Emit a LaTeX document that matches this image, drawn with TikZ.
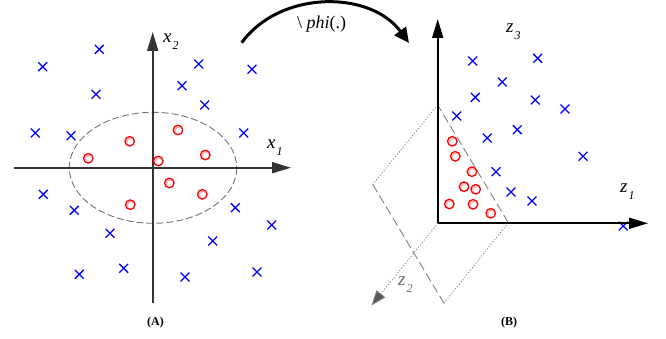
\documentclass[tikz,border=0pt]{standalone}
\usepackage{fontspec}
\setmainfont{Liberation Serif}
\usetikzlibrary{arrows.meta,shapes.misc}
\tikzset{
  crs/.style={draw=blue, line width=1.3pt, cross out, minimum size=7.5pt, inner sep=0pt},
  reddot/.style={circle, draw=red, fill=white, line width=1.3pt, minimum size=9.5pt, inner sep=0pt,
    path picture={\fill[red!30] (path picture bounding box.center) circle (3.6pt);
                  \fill[white] ([shift={(0.9pt,-0.9pt)}]path picture bounding box.center) circle (3.1pt);}},
  axisline/.style={line width=1.8pt, -{Triangle[length=19pt,width=11pt]}},
  lab/.style={anchor=base west, inner sep=0pt, font=\fontsize{19}{19}\selectfont\itshape},
  plane/.style={draw=gray, line width=0.9pt, dash pattern=on 9pt off 4pt},
  pdot/.style={draw=gray, line width=0.9pt, dash pattern=on 1pt off 2pt},
  captext/.style={font=\fontsize{12}{12}\selectfont\bfseries, inner sep=0pt}
}
\newcommand{\sbs}[1]{\raisebox{-7pt}{\fontsize{12}{12}\selectfont\itshape #1}}
\begin{document}
\begin{tikzpicture}[x=1pt,y=-1pt]
\useasboundingbox (0,0) rectangle (666,339);
% ---------- panel A ----------
\coordinate (ax0) at (14,167.7);
\coordinate (ax1) at (291,167.7);
\coordinate (ay0) at (152.7,303);
\coordinate (ay1) at (152.7,32);
\coordinate (ec) at (153,167.8);
\draw[draw=gray!90!black, line width=0.9pt, dash pattern=on 7pt off 3pt] (ec) ellipse [x radius=83.7, y radius=55.5];
\draw[axisline, draw=black!80, fill=black] (ax0) -- (ax1);
\draw[axisline, draw=black!80, fill=black] (ay0) -- (ay1);
\node[lab] (lx1) at (267,148.3) {x\kern1pt\sbs{1}};
\node[lab] (lx2) at (163,43) {x\kern1pt\sbs{2}};
\foreach \i/\p in {1/{42.7,66.7},2/{99.3,49.3},3/{96,94.3},4/{35.3,133},5/{71,135.7},6/{198.7,64},7/{182,85.7},8/{204.7,105},9/{252,69.3},10/{243.7,133},11/{43.3,194.3},12/{74.3,210.3},13/{110,233.3},14/{79.3,274.3},15/{123.7,268.3},16/{185,277},17/{212.7,241},18/{235.3,207.7},19/{271.7,225},20/{257,272}}
  \node[crs] (ca\i) at (\p) {};
\foreach \i/\p in {1/{88.3,158.3},2/{129.7,141.3},3/{178,130},4/{158.3,161},5/{205.3,155},6/{169.3,183},7/{202.3,194.3},8/{130.3,204.7}}
  \node[reddot] (ra\i) at (\p) {};
\node[captext] (capA) at (155.5,323) {(A)};
% ---------- mapping arrow ----------
\coordinate (m0) at (241.7,42.7);
\coordinate (m1) at (409,43);
\draw[line width=3pt, -{Triangle[length=15pt,width=14pt]}] (m0) .. controls (280,-10) and (370,-10) .. (m1);
\node[anchor=base west, inner sep=0pt, font=\fontsize{18}{18}\selectfont] (phi) at (297,29) {\textbackslash\ \textit{phi}(.)};
% ---------- panel B ----------
\coordinate (o) at (437.7,223.3);
\coordinate (z3) at (437.7,19);
\coordinate (z1) at (648,223.3);
\coordinate (z2) at (371.5,305.5);
\coordinate (pA) at (437.7,105);
\coordinate (pB) at (372.7,184.3);
\coordinate (pC) at (444,303.3);
\coordinate (pD) at (508.3,222.7);
\draw[pdot] (pA) -- (pB);
\draw[plane] (pB) -- (pC);
\draw[pdot] (pC) -- (pD);
\draw[plane] (pD) -- (pA);
\draw[pdot, -{Triangle[length=15pt,width=11pt,fill=black!65]}, draw=gray] (o) -- (z2);
\node[crs] (cb14) at (623.3,226) {};
\draw[axisline, fill=black] (o) -- (z3);
\draw[axisline, fill=black] (o) -- (z1);
\foreach \i/\p in {1/{472.7,61},2/{537.7,58.3},3/{502.3,82},4/{475.3,97.3},5/{535.3,100},6/{565,109},7/{456.7,116},8/{517.3,129.7},9/{487.3,138},10/{583,156.3},11/{496,171.7},12/{511,192},13/{532,201}}
  \node[crs] (cb\i) at (\p) {};
\foreach \i/\p in {1/{452.3,141.3},2/{455.3,156.3},3/{472,171.7},4/{464,186.7},5/{475.7,189.3},6/{449.3,204},7/{473,204.3},8/{490.7,213.3}}
  \node[reddot] (rb\i) at (\p) {};
\node[lab] (lz3) at (506,33) {z\kern1pt\sbs{3}};
\node[lab] (lz1) at (620,193) {z\kern1pt\sbs{1}};
\node[lab, text=black!60] (lz2) at (398,285) {z\kern1pt\sbs{2}};
\node[captext] (capB) at (509,323) {(B)};
\end{tikzpicture}
\end{document}
